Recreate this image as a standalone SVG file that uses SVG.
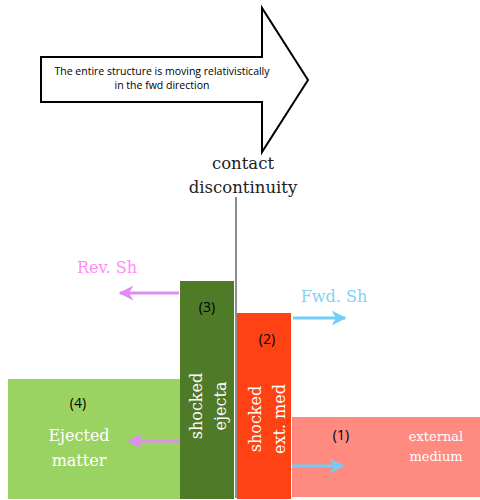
<svg xmlns="http://www.w3.org/2000/svg" width="480" height="500" viewBox="0 0 480 500">
<style>
.lbl{font-family:"Open Sans","Noto Sans",sans-serif;fill:#000;text-anchor:middle}
.ser{font-family:"DejaVu Serif","Liberation Serif",serif;text-anchor:middle}
.wh{fill:#fff}
.pk{stroke:#E08CF5;stroke-width:3;fill:none}
.bl{stroke:#72CEF6;stroke-width:3;fill:none}
</style>
<defs>
<marker id="hp" viewBox="0 0 10 10" refX="9" refY="5" markerWidth="5" markerHeight="5" orient="auto" markerUnits="strokeWidth">
<path d="M0,0 L10,5 L0,10 L3,5 Z" fill="#E08CF5"/>
</marker>
<marker id="hb" viewBox="0 0 10 10" refX="9" refY="5" markerWidth="5" markerHeight="5" orient="auto" markerUnits="strokeWidth">
<path d="M0,0 L10,5 L0,10 L3,5 Z" fill="#72CEF6"/>
</marker>
</defs>
<rect width="480" height="500" fill="#fff"/>
<g id="motion-arrow">
<path d="M41,57 L262,57 L262,8 L308,80 L262,152 L262,102 L41,102 Z" fill="#fff" stroke="#000" stroke-width="2" stroke-linejoin="miter"/>
<text class="lbl" x="162" y="75" font-size="10.5" fill="#222">The entire structure is moving relativistically</text>
<text class="lbl" x="162" y="89" font-size="10.5" fill="#222">in the fwd direction</text>
</g>
<g id="contact">
<text class="ser" x="243" y="169" font-size="16.5" fill="#222">contact</text>
<text class="ser" x="243" y="193" font-size="16.5" fill="#222">discontinuity</text>
</g>
<g id="region4">
<rect x="8" y="379" width="172" height="120" fill="#9BD362"/>
<text class="lbl" x="78" y="408" font-size="14">(4)</text>
<text class="ser wh" x="79" y="441" font-size="16">Ejected</text>
<text class="ser wh" x="79" y="466" font-size="16">matter</text>
</g>
<g id="region3">
<rect x="180" y="281" width="54" height="218" fill="#4F7A28"/>
<text class="lbl" x="207" y="312" font-size="14">(3)</text>
<text class="ser wh" font-size="16" transform="translate(202,406) rotate(-90)">shocked</text>
<text class="ser wh" font-size="16" transform="translate(226,406) rotate(-90)">ejecta</text>
</g>
<g id="region2">
<rect x="237" y="313" width="54" height="186" fill="#FF4213"/>
<text class="lbl" x="267" y="344" font-size="14">(2)</text>
<text class="ser wh" font-size="16" transform="translate(261,419) rotate(-90)">shocked</text>
<text class="ser wh" font-size="16" transform="translate(285,419) rotate(-90)">ext. med</text>
</g>
<g id="region1">
<rect x="292" y="417" width="188" height="80" fill="#FF8A80"/>
<text class="lbl" x="341" y="440" font-size="14">(1)</text>
<text class="ser wh" x="436" y="441" font-size="13">external</text>
<text class="ser wh" x="436" y="461" font-size="13">medium</text>
</g>
<g id="connectors">
<line x1="236" y1="197" x2="236" y2="498" stroke="#8A8F8A" stroke-width="2"/>
<line class="pk" x1="179" y1="293" x2="120" y2="293" marker-end="url(#hp)"/>
<line class="pk" x1="180" y1="441" x2="129" y2="441" marker-end="url(#hp)"/>
<line class="bl" x1="293" y1="318" x2="345" y2="318" marker-end="url(#hb)"/>
<line class="bl" x1="292" y1="466" x2="343" y2="466" marker-end="url(#hb)"/>
</g>
<g id="shock-labels">
<text class="ser" x="107" y="273" font-size="16" fill="#FF8CF8">Rev. Sh</text>
<text class="ser" x="334" y="302" font-size="16" fill="#7FD4F8">Fwd. Sh</text>
</g>
</svg>
